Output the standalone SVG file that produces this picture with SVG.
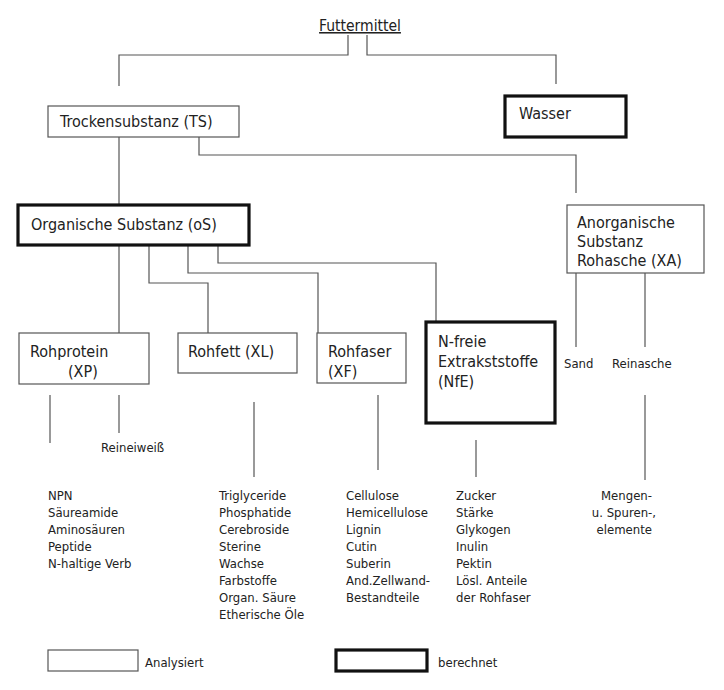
<svg xmlns="http://www.w3.org/2000/svg" width="724" height="690" viewBox="0 0 724 690">
<style>
text{font-family:"DejaVu Sans Condensed","DejaVu Sans",sans-serif;fill:#222}
.n{font-size:16px}
.s{font-size:13px}
.box{fill:#fff;stroke:#555;stroke-width:1.2}
.calc{fill:#fff;stroke:#111;stroke-width:3.2}
.c{fill:none;stroke:#555;stroke-width:1.2}
</style>
<rect width="724" height="690" fill="#fff"/>
<g id="connectors">
<path class="c" d="M348 35V55H119V86"/>
<path class="c" d="M367 35V55H556V84"/>
<path class="c" d="M119 137V204"/>
<path class="c" d="M199 137V155H576V193"/>
<path class="c" d="M119 245V333"/>
<path class="c" d="M149 245V283H208V333"/>
<path class="c" d="M188 245V273H318V333"/>
<path class="c" d="M218 245V263H436V322"/>
<path class="c" d="M576 273V347"/>
<path class="c" d="M645 273V347"/>
<path class="c" d="M50 395V443"/>
<path class="c" d="M119 395V433"/>
<path class="c" d="M254 402V477"/>
<path class="c" d="M378 395V470"/>
<path class="c" d="M476 440V477"/>
<path class="c" d="M645 395V480"/>
</g>
<g id="futtermittel">
<text x="360" y="31" text-anchor="middle" style="font-size:15.5px" text-decoration="underline">Futtermittel</text>
</g>
<g id="ts">
<rect class="box" x="48" y="106" width="191" height="31"/>
<text class="n" x="60" y="127">Trockensubstanz (TS)</text>
</g>
<g id="wasser">
<rect class="calc" x="505" y="96" width="121" height="41"/>
<text class="n" x="519" y="119">Wasser</text>
</g>
<g id="os">
<rect class="calc" x="18" y="205" width="231" height="40"/>
<text class="n" x="31" y="230">Organische Substanz (oS)</text>
</g>
<g id="xa">
<rect class="box" x="567" y="205" width="137" height="68"/>
<text class="n" x="577" y="228">Anorganische</text>
<text class="n" x="577" y="247">Substanz</text>
<text class="n" x="577" y="266">Rohasche (XA)</text>
</g>
<g id="xp">
<rect class="box" x="19" y="333" width="130" height="51"/>
<text class="n" x="30" y="357">Rohprotein</text>
<text class="n" x="68" y="377">(XP)</text>
</g>
<g id="xl">
<rect class="box" x="178" y="333" width="119" height="40"/>
<text class="n" x="188" y="357">Rohfett (XL)</text>
</g>
<g id="xf">
<rect class="box" x="317" y="333" width="89" height="50"/>
<text class="n" x="328" y="357">Rohfaser</text>
<text class="n" x="328" y="377">(XF)</text>
</g>
<g id="nfe">
<rect class="calc" x="426" y="322" width="129" height="101"/>
<text class="n" x="438" y="347">N-freie</text>
<text class="n" x="438" y="367">Extrakststoffe</text>
<text class="n" x="438" y="387">(NfE)</text>
</g>
<g id="sand"><text class="s" x="564" y="368">Sand</text></g>
<g id="reinasche"><text class="s" x="612" y="368">Reinasche</text></g>
<g id="reineiweiss"><text class="s" x="101" y="452">Reineiweiß</text></g>
<g id="list-xp">
<text class="s" x="48" y="500">NPN</text>
<text class="s" x="48" y="517">Säureamide</text>
<text class="s" x="48" y="534">Aminosäuren</text>
<text class="s" x="48" y="551">Peptide</text>
<text class="s" x="48" y="568">N-haltige Verb</text>
</g>
<g id="list-xl">
<text class="s" x="219" y="500">Triglyceride</text>
<text class="s" x="219" y="517">Phosphatide</text>
<text class="s" x="219" y="534">Cerebroside</text>
<text class="s" x="219" y="551">Sterine</text>
<text class="s" x="219" y="568">Wachse</text>
<text class="s" x="219" y="585">Farbstoffe</text>
<text class="s" x="219" y="602">Organ. Säure</text>
<text class="s" x="219" y="619">Etherische Öle</text>
</g>
<g id="list-xf">
<text class="s" x="346" y="500">Cellulose</text>
<text class="s" x="346" y="517">Hemicellulose</text>
<text class="s" x="346" y="534">Lignin</text>
<text class="s" x="346" y="551">Cutin</text>
<text class="s" x="346" y="568">Suberin</text>
<text class="s" x="346" y="585">And.Zellwand-</text>
<text class="s" x="346" y="602">Bestandteile</text>
</g>
<g id="list-nfe">
<text class="s" x="456" y="500">Zucker</text>
<text class="s" x="456" y="517">Stärke</text>
<text class="s" x="456" y="534">Glykogen</text>
<text class="s" x="456" y="551">Inulin</text>
<text class="s" x="456" y="568">Pektin</text>
<text class="s" x="456" y="585">Lösl. Anteile</text>
<text class="s" x="456" y="602">der Rohfaser</text>
</g>
<g id="list-xa">
<text class="s" x="652" y="500" text-anchor="end">Mengen-</text>
<text class="s" x="656" y="517" text-anchor="end">u. Spuren-,</text>
<text class="s" x="652" y="534" text-anchor="end">elemente</text>
</g>
<g id="legend">
<rect class="box" x="48" y="650" width="90" height="21"/>
<text class="s" x="145" y="667">Analysiert</text>
<rect class="calc" x="336" y="650" width="91" height="21"/>
<text class="s" x="438" y="667">berechnet</text>
</g>
</svg>
